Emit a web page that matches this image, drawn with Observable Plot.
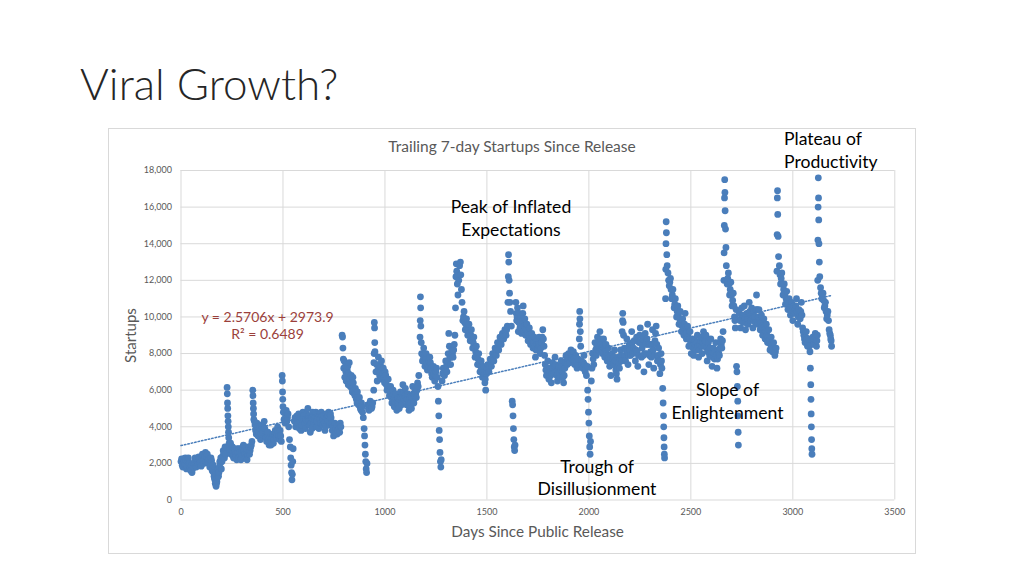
<!DOCTYPE html>
<html>
<head>
<meta charset="utf-8">
<script src="https://cdn.jsdelivr.net/npm/d3@7"></script>
<script src="https://cdn.jsdelivr.net/npm/@observablehq/plot@0.6"></script>
<style>
  html, body { margin: 0; padding: 0; background: #ffffff; }
  #slide { position: relative; width: 1024px; height: 576px; overflow: hidden; background: #ffffff; }
  #chartbox { position: absolute; left: 108px; top: 128px; width: 808px; height: 426px; box-sizing: border-box; border: 1px solid #d9d9d9; }
  #plot { position: absolute; left: 108px; top: 128px; }
  #overlay { position: absolute; left: 0; top: 0; pointer-events: none; }
  svg text { font-variant-ligatures: none; font-feature-settings: "liga" 0, "clig" 0, "dlig" 0; }
</style>
</head>
<body>
<div id="slide">
  <div id="chartbox"></div>
  <div id="plot"></div>
</div>
<script>
// ---- Data (day since release, trailing 7-day startups) ----
const days = [
  0,6,12,18,24,30,36,42,48,54,
  60,66,72,78,84,90,96,102,108,114,
  120,126,132,138,144,150,156,160,164,168,
  172,176,180,184,188,192,198,204,210,216,
  220,226,227,228,229,230,231,232,233,234,
  236,240,246,252,258,264,270,276,282,288,
  294,300,306,312,318,324,330,336,342,348,
  352,353,354,355,356,357,360,366,372,378,
  384,390,396,402,408,414,420,426,432,438,
  444,450,456,462,468,474,480,486,492,496,
  497,498,499,500,502,505,510,516,522,528,
  532,536,538,540,542,544,546,548,550,556,
  562,568,574,580,586,592,598,604,610,616,
  622,628,634,640,646,652,658,664,670,676,
  682,688,694,700,706,712,718,724,730,736,
  742,748,754,760,766,772,778,784,790,792,
  794,796,798,800,803,806,810,815,820,825,
  830,835,840,845,850,855,860,865,870,875,
  880,885,890,894,898,900,902,904,906,908,
  910,912,916,922,928,934,940,945,946,947,
  948,949,950,951,956,962,968,974,980,986,
  992,998,1004,1010,1016,1022,1028,1034,1040,1046,
  1052,1058,1064,1070,1076,1082,1088,1094,1100,1106,
  1112,1118,1124,1130,1136,1142,1148,1154,1160,1166,
  1172,1173,1174,1175,1176,1178,1180,1184,1190,1196,
  1202,1208,1214,1220,1226,1232,1238,1244,1250,1256,
  1260,1262,1264,1266,1268,1270,1272,1274,1276,1280,
  1286,1292,1298,1304,1310,1313,1316,1322,1328,1334,
  1340,1346,1348,1350,1352,1355,1358,1362,1366,1370,
  1372,1375,1378,1382,1388,1394,1400,1406,1412,1418,
  1424,1430,1436,1442,1448,1454,1460,1466,1472,1478,
  1484,1490,1494,1498,1504,1510,1516,1522,1528,1534,
  1540,1546,1552,1558,1564,1570,1576,1582,1588,1594,
  1600,1603,1605,1606,1607,1609,1611,1613,1616,1620,
  1624,1626,1628,1630,1632,1634,1636,1638,1642,1646,
  1650,1654,1658,1662,1666,1670,1674,1678,1682,1686,
  1690,1696,1702,1708,1714,1720,1726,1732,1738,1744,
  1750,1756,1762,1768,1774,1780,1786,1792,1798,1804,
  1810,1816,1822,1828,1834,1840,1846,1852,1858,1864,
  1870,1876,1882,1888,1894,1900,1906,1912,1918,1924,
  1930,1936,1942,1948,1953,1954,1955,1956,1958,1960,
  1964,1970,1976,1982,1988,1992,1994,1996,1998,2000,
  2002,2004,2006,2008,2012,2018,2024,2030,2036,2042,
  2048,2054,2060,2066,2072,2078,2084,2090,2096,2102,
  2108,2114,2120,2126,2132,2138,2144,2150,2156,2160,
  2163,2165,2166,2168,2170,2174,2180,2186,2192,2198,
  2204,2210,2216,2222,2228,2234,2240,2246,2252,2258,
  2264,2270,2276,2282,2288,2294,2300,2306,2312,2318,
  2324,2330,2336,2342,2348,2354,2358,2362,2364,2366,
  2367,2368,2369,2370,2371,2376,2377,2378,2379,2380,
  2382,2384,2388,2394,2400,2406,2412,2418,2424,2430,
  2436,2442,2448,2454,2460,2466,2472,2478,2484,2490,
  2496,2502,2508,2514,2520,2526,2532,2538,2544,2550,
  2556,2562,2568,2574,2580,2586,2592,2598,2604,2610,
  2616,2622,2628,2634,2640,2646,2652,2658,2662,2663,
  2664,2665,2666,2667,2668,2670,2672,2674,2678,2684,
  2690,2696,2702,2708,2714,2718,2722,2724,2726,2728,
  2730,2731,2732,2733,2738,2744,2750,2756,2762,2768,
  2774,2780,2786,2792,2798,2804,2810,2816,2822,2828,
  2834,2840,2846,2852,2858,2864,2870,2876,2882,2888,
  2894,2900,2906,2912,2918,2922,2923,2924,2925,2926,
  2928,2930,2934,2940,2946,2952,2958,2964,2970,2976,
  2982,2988,2994,3000,3006,3012,3018,3024,3030,3036,
  3042,3048,3054,3060,3066,3072,3078,3084,3086,3088,
  3089,3090,3091,3092,3093,3094,3098,3104,3110,3116,
  3120,3122,3123,3124,3125,3126,3127,3128,3130,3132,
  3136,3142,3148,3154,3160,3166,3172,3178,3184,3188,
  3190
];
const startups = [
  2100,1900,2250,1950,2150,1850,2300,2000,1600,1500,
  1800,2100,1900,2200,1950,2250,2050,2300,2450,2200,
  2600,2350,2100,2250,1900,2150,1700,1500,1200,900,
  750,1000,1500,1300,1800,2000,1700,2400,2600,2900,
  2500,6150,5800,5300,5000,4600,4300,4000,3700,3400,
  3100,2700,2500,2900,2300,2700,2400,2800,2300,2600,
  2200,2700,3000,2500,2900,2200,2700,2500,2900,3200,
  6000,5700,5300,5000,4700,4400,4300,3800,4200,3500,
  4000,3300,4100,3700,4300,3500,3200,3700,3000,3400,
  3100,3600,3300,3800,3400,4000,3500,3800,3200,6800,
  6500,5900,5500,5100,4800,4400,4200,4900,4500,4000,
  3300,2900,2300,1900,1500,1100,1400,2100,2800,4300,
  4000,4600,4200,3900,4500,4100,4800,4400,3900,4700,
  5000,4300,3700,4500,4800,4200,4600,4000,4700,3900,
  4400,4800,4100,4600,3800,4700,4300,4800,4100,4500,
  3800,3500,4200,3900,3600,4100,3700,4000,9000,8900,
  8300,7700,7200,7600,6700,7300,6500,7100,6300,7500,
  6200,6800,5900,6400,5800,6100,5500,5900,5200,5600,
  5000,5300,4800,4500,3900,3500,3000,2500,2100,1700,
  1500,2000,5200,4900,5400,5000,5300,6000,7500,8000,
  9700,9400,8600,8100,7000,6500,7800,6800,7300,6600,
  7200,6400,6800,6000,6600,5700,6200,5300,6000,5100,
  5800,4900,5600,5000,5900,5200,6300,5500,6100,5200,
  5800,4900,5600,5000,6200,5300,6000,5600,6400,6800,
  8900,9800,11100,10500,9500,8600,8000,7600,8300,7300,
  8000,7100,7600,7800,7200,6700,7300,6500,7000,6700,
  6200,5400,4600,3800,3300,2600,2100,1800,2200,6500,
  7200,6800,7600,7000,8000,9100,8400,7400,8200,7800,
  8500,10500,12200,12900,12500,11800,11200,12000,12800,13000,
  12300,11500,10800,9800,10300,9300,9900,9000,9600,8700,
  9300,8300,8900,7800,8400,7400,8000,7000,7600,6700,
  7300,6400,6000,6900,7400,7000,7700,7300,8000,7600,
  8300,7900,8600,8200,8900,8500,9100,8800,9300,9000,
  9500,10800,12200,13400,13000,12000,11300,10800,10300,9500,
  5400,5200,4600,3900,3300,2900,2700,3000,10800,9800,
  10500,9200,10200,9400,10000,9100,9800,10600,9200,9900,
  9000,9600,8700,9400,8500,9100,8300,8900,7800,8700,
  8200,8900,8000,8600,9300,8400,7400,6800,7600,6600,
  7200,6400,7500,6900,7800,7000,6500,7300,6700,7600,
  7000,6400,7200,7900,7400,8000,7500,8200,7700,8100,
  7400,7900,7200,7700,8800,9600,10300,9900,9200,8400,
  7600,7200,7900,7000,6800,7300,6000,5500,4800,4200,
  3500,2900,2500,3200,6500,8000,7400,8600,7900,8900,
  8200,9200,8500,8000,8800,7800,8500,7600,8300,7300,
  6800,8000,7400,8200,7100,6600,7800,7200,8200,7600,
  9200,9800,10200,9700,9000,8300,7600,8800,7400,8500,
  7900,9200,8000,8700,7600,8900,7300,8600,9400,7800,
  8800,7000,9100,8000,9600,7400,8500,7800,9300,7200,
  8700,9500,7600,8300,6900,8000,7200,6100,5300,4600,
  4000,3400,2900,2500,2300,11000,12600,14000,15200,14600,
  13400,12800,12400,11700,12100,11000,11500,10500,11000,10000,
  10600,9600,10300,9200,9900,9000,10200,8800,9500,8400,
  9200,8000,8800,7900,8700,8200,9000,7800,8500,8900,
  8000,9200,8400,9000,7600,8600,7900,8800,7300,8300,
  7700,8600,7200,8200,7900,8800,8300,9200,12000,13500,
  15000,16500,17500,16800,15800,14800,13800,12800,11800,12400,
  11200,11900,10600,11300,10000,9400,10400,7300,7000,6200,
  5400,4600,3700,3000,10200,9400,10500,9700,10600,9300,
  10200,9600,10800,9800,10500,9400,10300,9700,11200,9600,
  10400,9300,10100,9000,9900,8800,9600,8600,9300,8200,
  8900,8100,8600,7900,8300,12500,14500,16500,16900,15600,
  14400,13300,12800,11800,12400,11200,11800,10700,11400,10400,
  11000,10100,10800,9800,10600,10200,11000,9600,10400,9900,
  10800,9400,9000,8600,9200,8400,8800,8100,7200,6300,
  5500,4700,4000,3300,2800,2500,8900,8500,9100,8400,
  9000,12000,14200,16000,17600,16500,15300,14000,13000,12200,
  11600,11000,11300,10500,10800,9900,10300,9300,9000,8700,
  8400
];

// In-between days of the dense bands (same series)
const bandDays = [
  3,9,15,21,27,33,39,45,51,57,63,69,75,81,87,93,99,105,111,117,123,129,135,141,147,153,158,162,166,170,174,178,182,186,190,195,201,207,213,218,
  238,243,249,255,261,267,273,279,285,291,297,303,309,315,321,327,333,339,345,
  363,369,375,381,387,393,399,405,411,417,423,429,435,441,447,453,459,465,471,477,483,489,
  513,519,525,
  559,565,571,577,583,589,595,601,607,613,619,625,631,637,643,649,655,661,667,673,679,685,691,697,703,709,715,721,727,733,739,745,751,757,763,769,775,781,
  808,812,818,822,828,833,838,843,848,853,858,863,868,873,878,883,888,
  919,925,931,937,
  959,965,971,977,983,989,995,1001,1007,1013,1019,1025,1031,1037,1043,1049,1055,1061,1067,1073,1079,1085,1091,1097,1103,1109,1115,1121,1127,1133,1139,1145,1151,1157,1163,
  1187,1193,1199,1205,1211,1217,1223,1229,1235,1241,1247,1253,
  1283,1289,1295,1301,1307,1319,1325,1331,1337,1343,
  1385,1391,1397,1403,1409,1415,1421,1427,1433,1439,1445,1451,1457,1463,1469,1475,1481,1487,1492,1501,1507,1513,1519,1525,1531,1537,1543,1549,1555,1561,1567,1573,1579,1585,1591,1597,
  1644,1648,1652,1656,1660,1664,1668,1672,1676,1680,1684,1688,1693,1699,1705,1711,1717,1723,1729,1735,1741,1747,1753,1759,1765,1771,1777,1783,
  1789,1795,1801,1807,1813,1819,1825,1831,1837,1843,1849,1855,1861,1867,1873,1879,1885,1891,1897,1903,1909,1915,1921,1927,1933,1939,1945,
  1967,1973,1979,1985,
  2015,2021,2027,2033,2039,2045,2051,2057,2063,2069,2075,2081,2087,2093,2099,2105,2111,2117,2123,2129,2135,2141,2147,2153,2158,
  2177,2183,2189,2195,2201,2207,2213,2219,2225,2231,2237,2243,2249,2255,2261,2267,2273,2279,2285,2291,2297,2303,2309,2315,2321,2327,2333,2339,2345,2351,2356,
  2391,2397,2403,2409,2415,2421,2427,2433,2439,2445,2451,2457,2463,2469,2475,2481,2487,2493,2499,2505,2511,2517,2523,
  2529,2535,2541,2547,2553,2559,2565,2571,2577,2583,2589,2595,2601,2607,2613,2619,2625,2631,2637,2643,2649,2655,
  2681,2687,2693,2699,2705,2711,2716,2720,
  2741,2747,2753,2759,2765,2771,2777,2783,2789,2795,2801,2807,2813,2819,2825,2831,2837,2843,2849,2855,2861,2867,2873,2879,2885,2891,2897,2903,2909,2915,
  2937,2943,2949,2955,2961,2967,2973,2979,2985,2991,2997,3003,3009,3015,3021,3027,3033,3039,3045,3051,3057,3063,3069,3075,3081,
  3101,3107,3113,3118,
  3139,3145,3151,3157,3163,3169,3175,3181,3186
];
const bandStartups = [
  2250,1800,2100,2300,1700,2200,1900,1750,1900,1700,2000,2300,1800,2050,2350,2000,1850,2500,2000,2400,2100,2500,2000,1800,2300,1600,1900,1300,1100,1400,900,1200,1700,1500,2100,2300,2100,2700,2300,2800,
  2900,3100,2700,2400,2800,2500,2200,2600,2800,2400,2500,2900,2700,2300,2700,2500,2900,2700,3000,
  4100,3600,4000,3700,3900,3600,3800,4000,3900,3400,3400,3300,3200,3000,3400,3100,3600,3700,3600,3800,3300,3500,
  4600,4300,4700,
  4500,4200,4400,4700,4300,3800,4400,4600,4200,4400,4300,4600,4100,4200,3900,4600,4400,4800,4300,4500,4700,4200,4600,4400,4200,4000,4500,4600,4300,4700,4200,4000,3800,3600,4100,3800,3900,4200,
  7000,6800,7300,6900,6600,6400,6100,6700,6000,5700,5800,5300,5600,5400,5100,4900,5100,
  5000,5200,5300,5100,
  7400,7100,7400,7000,7600,6900,6700,7000,6300,6200,6000,6000,5600,5700,5500,5400,5300,5300,5300,5500,5600,5800,5900,5700,5700,5500,5300,5200,5300,5600,5800,5700,5800,6000,6200,
  7900,7800,7700,7500,7300,7300,7500,6900,7000,6900,6800,7200,
  6900,7000,7200,7300,7600,7800,7800,8000,8200,9000,
  10000,9700,9600,9400,9300,9100,9000,8700,8600,8300,8100,7900,7700,7500,7300,7100,7000,6800,6600,7200,7200,7300,7500,7600,7800,8000,8100,8300,8400,8600,8700,8800,8900,9000,9200,9300,
  10200,10000,9800,9700,9800,9600,9500,9400,10200,9900,9500,9400,9300,9100,9000,8900,8800,8700,8600,8400,8200,8500,8500,8400,8300,8900,8800,7900,
  7100,7200,7100,6900,6800,6900,7200,7300,7400,6800,6900,7000,7100,7300,6700,6800,7500,7600,7700,7700,7800,7900,7900,7700,7600,7500,7400,
  7400,7500,7400,7200,
  7200,7700,8000,8200,8400,8500,8700,8800,8200,8400,8300,8100,8000,7900,7800,7700,7400,7700,7800,7600,6900,7200,7500,7700,7900,
  7900,8200,8100,7900,8200,8500,8600,8300,8100,8200,8100,7900,9000,8600,8300,7900,8000,8500,8800,8500,7900,8100,8500,8200,7900,9100,8500,7900,7600,7400,7600,
  12000,11900,11500,11200,11000,10700,10500,10300,10100,9900,9700,9500,9400,9600,9400,9100,8900,8800,8600,8400,8300,8300,8500,
  8600,8400,8200,8700,8400,8600,8800,8700,8300,8100,8200,8300,8000,7800,8000,8100,7900,7700,8000,8300,8500,8700,
  12100,11800,11500,11200,10900,10600,9800,9900,
  9800,9900,10100,10100,9900,9700,9900,10200,10300,10100,9900,9800,10000,10400,10400,10000,9800,9700,9500,9400,9300,9200,9000,8900,8700,8500,8500,8300,8200,8100,
  12300,12100,11800,11500,11200,11000,10900,10700,10500,10400,10300,10200,10400,10600,10300,10000,10100,10300,10100,9200,8800,8900,8800,8600,8400,
  8700,8800,8700,8700,
  11300,11100,10900,10600,10300,10100,9800,9100,8800
];

// Axis ticks
const xTicks = [0, 500, 1000, 1500, 2000, 2500, 3000, 3500];
const yTicks = [0, 2000, 4000, 6000, 8000, 10000, 12000, 14000, 16000, 18000];

// Linear trendline (from the label in the chart)
const trendSlope = 2.5706;
const trendIntercept = 2973.9;
const trendDays = [0, 3190];

// Text labels
const slideTitle = "Viral Growth?";
const chartTitle = "Trailing 7-day Startups Since Release";
const xLabel = "Days Since Public Release";
const yLabel = "Startups";
const equationLines = ["y = 2.5706x + 2973.9", "R² = 0.6489"];
const annotations = [
  {lines: ["Plateau of", "Productivity"], anchor: "start"},
  {lines: ["Peak of Inflated", "Expectations"], anchor: "middle"},
  {lines: ["Slope of", "Enlightenment"], anchor: "middle"},
  {lines: ["Trough of", "Disillusionment"], anchor: "middle"}
];
const annotationPos = [[784, 145], [511, 213], [727.5, 396], [597, 472.5]];

const data = days.map((d, i) => ({day: d, startups: startups[i]}))
  .concat(bandDays.map((d, i) => ({day: d, startups: bandStartups[i]})))
  .filter(d => d.startups != null)
  .sort((a, b) => a.day - b.day);

const FONT = "Lato, 'Open Sans', sans-serif";

const chart = Plot.plot({
  width: 807,
  height: 425,
  marginLeft: 72.5,
  marginRight: 20.7,
  marginTop: 42,
  marginBottom: 53.5,
  style: {fontFamily: FONT, fontSize: "9px", color: "#595959", background: "transparent", overflow: "visible"},
  x: {domain: [0, 3500], ticks: xTicks, tickFormat: d => String(d), tickSize: 0, tickPadding: 9, label: null},
  y: {domain: [0, 18000], ticks: yTicks, tickFormat: d3.format(","), tickSize: 0, tickPadding: 9, label: null},
  marks: [
    Plot.ruleY(yTicks, {stroke: "#d9d9d9", strokeWidth: 1}),
    Plot.ruleX(xTicks, {stroke: "#d9d9d9", strokeWidth: 1}),
    Plot.dot(data, {x: "day", y: "startups", r: 3.4, fill: "#4a7ebb", stroke: "none"}),
    Plot.line(trendDays, {x: d => d, y: d => trendSlope * d + trendIntercept, stroke: "#4a7ebb", strokeWidth: 1.5, strokeDasharray: "1.5,2"})
  ]
});
document.getElementById("plot").appendChild(chart);

// Overlay SVG for slide texts
const svg = d3.select("#slide").append("svg")
  .attr("id", "overlay").attr("width", 1024).attr("height", 576);

function addText(x, y, s, size, fill, anchor, extra) {
  const t = svg.append("text").attr("x", x).attr("y", y).text(s)
    .attr("font-family", FONT).attr("font-size", size).attr("fill", fill)
    .attr("text-anchor", anchor || "start");
  if (extra) extra(t);
  return t;
}

addText(80, 100, slideTitle, 44, "#262626", "start", t => t.attr("font-weight", 300));
addText(512, 152, chartTitle, 15.5, "#595959", "middle");
addText(537.6, 536.5, xLabel, 15.3, "#595959", "middle");
addText(0, 0, yLabel, 15, "#595959", "middle", t => t.attr("transform", "translate(136,335.5) rotate(-90)"));
addText(267.5, 321.5, equationLines[0], 14, "#9b3f3b", "middle");
addText(267.5, 339, equationLines[1], 14, "#9b3f3b", "middle");

annotations.forEach((a, i) => {
  const [x, y] = annotationPos[i];
  a.lines.forEach((line, j) => addText(x, y + j * 22.5, line, 17.6, "#000000", a.anchor));
});
</script>
</body>
</html>
